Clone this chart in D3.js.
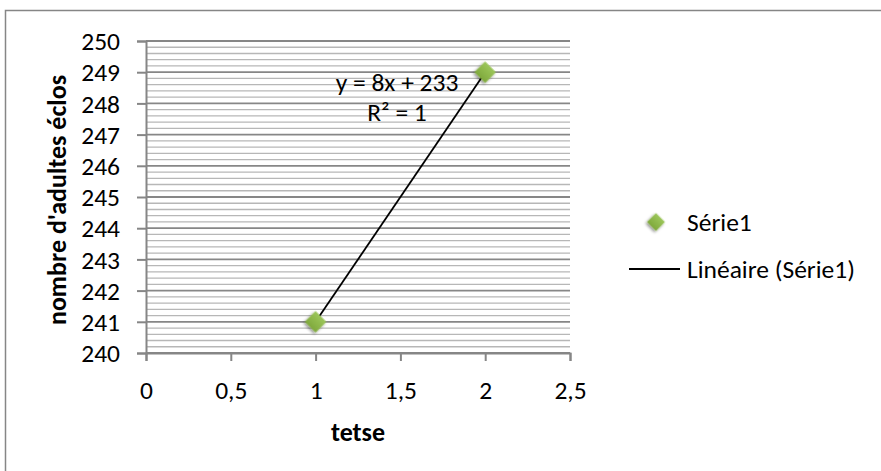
<!DOCTYPE html>
<html>
<head>
<meta charset="utf-8">
<script src="https://cdn.jsdelivr.net/npm/d3@7"></script>
<style>
  html, body { margin: 0; padding: 0; background: #fff; }
  svg { display: block; font-family: Carlito, Calibri, Lato, sans-serif; }
</style>
</head>
<body>
<div id="chart"></div>
<script>
const seriesName = 'Série1';
const trendName = 'Linéaire (Série1)';
const xValues = [1, 2];
const yValues = [241, 249];
const xTicks = [0, 0.5, 1, 1.5, 2, 2.5];
const yTicks = [240, 241, 242, 243, 244, 245, 246, 247, 248, 249, 250];
const xTitle = 'tetse';
const yTitle = "nombre d'adultes éclos";
const equationLines = ['y = 8x + 233', 'R² = 1'];

const width = 881;
const height = 471;
const plot = { left: 146, right: 570, top: 41, bottom: 353 };
const fontSize = '25.5px';

const fr = d3.formatLocale({ decimal: ',', thousands: ' ', grouping: [3], currency: ['', ' €'] });
const fmt = fr.format('~g');

const svg = d3.select('#chart').append('svg')
  .attr('width', width)
  .attr('height', height);

// drop shadow + gradient for the markers
const defs = svg.append('defs');
const shadow = defs.append('filter').attr('id', 'shadow')
  .attr('x', '-50%').attr('y', '-50%').attr('width', '200%').attr('height', '200%');
shadow.append('feGaussianBlur').attr('in', 'SourceAlpha').attr('stdDeviation', 1.6);
shadow.append('feOffset').attr('dx', 0).attr('dy', 2).attr('result', 'blur');
shadow.append('feComponentTransfer').append('feFuncA').attr('type', 'linear').attr('slope', 0.45);
const merge = shadow.append('feMerge');
merge.append('feMergeNode');
merge.append('feMergeNode').attr('in', 'SourceGraphic');

const grad = defs.append('linearGradient').attr('id', 'green')
  .attr('x1', 0).attr('y1', 0).attr('x2', 0).attr('y2', 1);
grad.append('stop').attr('offset', '0%').attr('stop-color', '#9cc65a');
grad.append('stop').attr('offset', '100%').attr('stop-color', '#7fa93c');

// chart frame (runs off the right and bottom edges)
svg.append('rect')
  .attr('x', 5.5).attr('y', 10.5)
  .attr('width', 1000).attr('height', 1000)
  .attr('fill', 'none')
  .attr('stroke', '#868686')
  .attr('stroke-width', 1.5);

const x = d3.scaleLinear().domain([0, 2.5]).range([plot.left, plot.right]);
const y = d3.scaleLinear().domain([240, 250]).range([plot.bottom, plot.top]);

// minor gridlines every 0.2
const minor = d3.range(240, 250.001, 0.2).filter(v => Math.abs(v - Math.round(v)) > 1e-6);
svg.append('g').selectAll('line').data(minor).join('line')
  .attr('x1', plot.left).attr('x2', plot.right)
  .attr('y1', d => y(d)).attr('y2', d => y(d))
  .attr('stroke', '#b7b7b7')
  .attr('stroke-width', 1.3);

// major gridlines
svg.append('g').selectAll('line').data(yTicks).join('line')
  .attr('x1', plot.left).attr('x2', plot.right)
  .attr('y1', d => y(d)).attr('y2', d => y(d))
  .attr('stroke', '#878787')
  .attr('stroke-width', 1.8);

// axes
const yAxis = svg.append('g')
  .attr('transform', `translate(${plot.left},0)`)
  .call(d3.axisLeft(y).tickValues(yTicks).tickSize(9).tickPadding(17).tickFormat(fmt));
const xAxis = svg.append('g')
  .attr('transform', `translate(0,${plot.bottom})`)
  .call(d3.axisBottom(x).tickValues(xTicks).tickSize(8).tickPadding(28).tickFormat(fmt));

[yAxis, xAxis].forEach(g => {
  g.select('.domain').attr('stroke', '#868686').attr('stroke-width', 2);
  g.selectAll('.tick line').attr('stroke', '#868686').attr('stroke-width', 2);
  g.selectAll('.tick text')
    .attr('fill', '#000')
    .style('font-family', 'Carlito, Calibri, Lato, sans-serif')
    .style('font-size', fontSize);
});
yAxis.selectAll('.tick text').attr('dy', '0.34em');
xAxis.selectAll('.tick text').attr('dy', '0.34em').attr('y', 37);

// trendline from least squares on the series
const mx = d3.mean(xValues), my = d3.mean(yValues);
const slope = d3.sum(xValues, (v, i) => (v - mx) * (yValues[i] - my)) /
  d3.sum(xValues, v => (v - mx) * (v - mx));
const intercept = my - slope * mx;
const xMin = d3.min(xValues), xMax = d3.max(xValues);
svg.append('line')
  .attr('x1', x(xMin)).attr('y1', y(slope * xMin + intercept))
  .attr('x2', x(xMax)).attr('y2', y(slope * xMax + intercept))
  .attr('stroke', '#000')
  .attr('stroke-width', 1.8);

// markers
const diamond = d3.symbol().type(d3.symbolSquare).size(230);
svg.append('g').selectAll('path').data(xValues).join('path')
  .attr('d', diamond)
  .attr('transform', (d, i) => `translate(${x(d)},${y(yValues[i])}) rotate(45)`)
  .attr('fill', 'url(#green)')
  .attr('filter', 'url(#shadow)');

// trendline equation
svg.append('g').selectAll('text').data(equationLines).join('text')
  .attr('x', 397)
  .attr('y', (d, i) => 82 + i * 30)
  .attr('dy', '0.34em')
  .attr('text-anchor', 'middle')
  .style('font-size', fontSize)
  .text(d => d);

// axis titles
svg.append('text')
  .attr('x', plot.left + (plot.right - plot.left) / 2)
  .attr('y', 432)
  .attr('dy', '0.34em')
  .attr('text-anchor', 'middle')
  .style('font-size', '26px')
  .style('font-weight', 'bold')
  .text(xTitle);

svg.append('text')
  .attr('transform', `translate(57,${(plot.top + plot.bottom) / 2 + 3}) rotate(-90)`)
  .attr('dy', '0.34em')
  .attr('text-anchor', 'middle')
  .style('font-size', '26px')
  .style('font-weight', 'bold')
  .text(yTitle);

// legend
const legend = svg.append('g');
legend.append('path')
  .attr('d', d3.symbol().type(d3.symbolSquare).size(160))
  .attr('transform', 'translate(656,222) rotate(45)')
  .attr('fill', 'url(#green)')
  .attr('filter', 'url(#shadow)');
legend.append('text')
  .attr('x', 687).attr('y', 222).attr('dy', '0.34em')
  .style('font-size', fontSize)
  .text(seriesName);
legend.append('line')
  .attr('x1', 629).attr('x2', 680)
  .attr('y1', 269).attr('y2', 269)
  .attr('stroke', '#000').attr('stroke-width', 1.8);
legend.append('text')
  .attr('x', 687).attr('y', 269).attr('dy', '0.34em')
  .style('font-size', fontSize)
  .text(trendName);
</script>
</body>
</html>
